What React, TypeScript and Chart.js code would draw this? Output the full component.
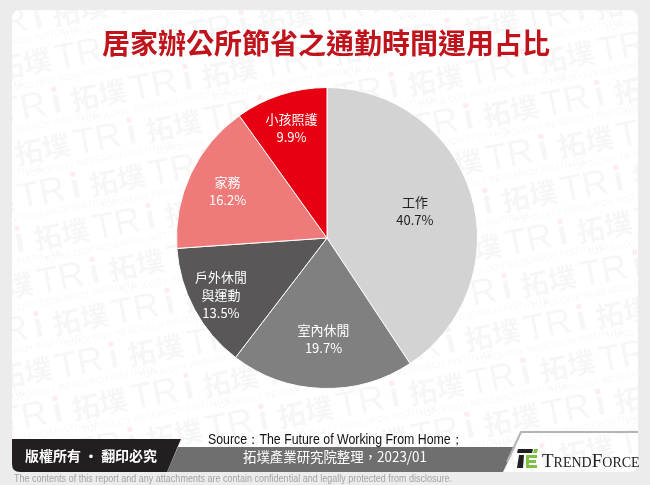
import React, { useEffect, useRef } from "react";
import { Chart, registerables } from "chart.js";

Chart.register(...registerables);

const categories = ["工作", "室內休閒", "戶外休閒與運動", "家務", "小孩照護"];
const labelLines = [["工作"], ["室內休閒"], ["戶外休閒", "與運動"], ["家務"], ["小孩照護"]];
const shares = [40.7, 19.7, 13.5, 16.2, 9.9];
const sliceColors = ["#d3d3d3", "#808080", "#595757", "#ee7a7a", "#e60012"];
const labelColors = ["#222222", "#ffffff", "#ffffff", "#ffffff", "#ffffff"];
const labelRadius = [0.61, 0.67, 0.8, 0.73, 0.77];
const title = "居家辦公所節省之通勤時間運用占比";
const sourceLine1 = "Source：The Future of Working From Home；";
const sourceLine2 = "拓墣產業研究院整理，2023/01";
const copyrightText = "版權所有 · 翻印必究";
const disclaimer =
  "The contents of this report and any attachments are contain confidential and legally protected from disclosure.";

const CJK = '"Noto Sans CJK TC", "Noto Sans CJK SC", sans-serif';

function roundRect(ctx: CanvasRenderingContext2D, x: number, y: number, w: number, h: number, r: number) {
  ctx.beginPath();
  ctx.moveTo(x + r, y);
  ctx.lineTo(x + w - r, y);
  ctx.quadraticCurveTo(x + w, y, x + w, y + r);
  ctx.lineTo(x + w, y + h - r);
  ctx.quadraticCurveTo(x + w, y + h, x + w - r, y + h);
  ctx.lineTo(x + r, y + h);
  ctx.quadraticCurveTo(x, y + h, x, y + h - r);
  ctx.lineTo(x, y + r);
  ctx.quadraticCurveTo(x, y, x + r, y);
  ctx.closePath();
}

function fitText(ctx: CanvasRenderingContext2D, text: string, x: number, y: number, width: number) {
  const w = ctx.measureText(text).width;
  ctx.save();
  ctx.translate(x, y);
  ctx.scale(width / w, 1);
  ctx.fillText(text, 0, 0);
  ctx.restore();
}

function drawWatermarkTile(ctx: CanvasRenderingContext2D, x: number, y: number) {
  ctx.save();
  ctx.translate(x, y);
  ctx.rotate(-0.2);
  ctx.fillStyle = "rgba(0,0,0,0.035)";
  ctx.textBaseline = "alphabetic";
  ctx.textAlign = "left";
  ctx.font = `bold 28px ${CJK}`;
  ctx.fillText("拓墣", 0, 0);
  ctx.font = '36px "Liberation Sans", Arial, sans-serif';
  ctx.fillText("TR", 60, 2);
  ctx.fillRect(116, -16, 5, 18);
  ctx.fillStyle = "rgba(230,0,18,0.07)";
  ctx.fillRect(116, -24, 5, 5);
  ctx.fillStyle = "rgba(0,0,0,0.035)";
  ctx.font = '9px "Liberation Sans", Arial, sans-serif';
  ctx.fillText("TOPOLOGY RESEARCH INSTITUTE", 6, 14);
  ctx.restore();
}

const backgroundPlugin = {
  id: "pageBackground",
  beforeDraw(chart: any) {
    const ctx: CanvasRenderingContext2D = chart.ctx;
    ctx.save();
    ctx.fillStyle = "#ececec";
    ctx.fillRect(0, 0, chart.width, chart.height);
    ctx.fillStyle = "#ffffff";
    roundRect(ctx, 12, 10, 626, 462, 9);
    ctx.fill();
    ctx.save();
    roundRect(ctx, 12, 10, 626, 462, 9);
    ctx.clip();
    for (let i = -6; i < 12; i++) {
      for (let j = -3; j < 8; j++) {
        const px = -40 + i * 75 + j * 19;
        const py = 80 + i * 31 + j * 85 - 170;
        drawWatermarkTile(ctx, px, py);
      }
    }
    ctx.restore();

    // title
    ctx.fillStyle = "#c0141c";
    ctx.font = `bold 28px ${CJK}`;
    ctx.textAlign = "center";
    ctx.textBaseline = "middle";
    ctx.fillText(title, 326, 43);

    // bottom bar
    ctx.fillStyle = "#6f6f6f";
    ctx.beginPath();
    ctx.moveTo(178, 447);
    ctx.lineTo(515, 447);
    ctx.lineTo(503, 472);
    ctx.lineTo(167, 472);
    ctx.closePath();
    ctx.fill();

    ctx.fillStyle = "#231f20";
    ctx.beginPath();
    ctx.moveTo(12, 439);
    ctx.lineTo(181, 439);
    ctx.lineTo(167, 472);
    ctx.lineTo(20, 472);
    ctx.quadraticCurveTo(12, 472, 12, 464);
    ctx.closePath();
    ctx.fill();

    ctx.strokeStyle = "#b4b4b4";
    ctx.lineWidth = 2;
    ctx.beginPath();
    ctx.moveTo(507, 462);
    ctx.lineTo(521, 432);
    ctx.lineTo(638, 432);
    ctx.stroke();

    ctx.fillStyle = "#ffffff";
    ctx.font = `bold 14px ${CJK}`;
    ctx.textAlign = "left";
    ctx.textBaseline = "middle";
    fitText(ctx, copyrightText, 25, 456, 132);

    ctx.fillStyle = "#111111";
    ctx.font = '14px "Liberation Sans", Arial, sans-serif';
    fitText(ctx, sourceLine1, 208, 440, 255);
    ctx.fillStyle = "#ffffff";
    ctx.font = `14px ${CJK}`;
    fitText(ctx, sourceLine2, 243, 457, 184);

    // TrendForce logo
    ctx.fillStyle = "#231f20";
    ctx.beginPath();
    ctx.moveTo(518, 449);
    ctx.lineTo(533, 449);
    ctx.lineTo(532, 453);
    ctx.lineTo(517, 453);
    ctx.closePath();
    ctx.fill();
    ctx.beginPath();
    ctx.moveTo(519, 455);
    ctx.lineTo(524, 455);
    ctx.lineTo(523, 468);
    ctx.lineTo(517, 468);
    ctx.closePath();
    ctx.fill();
    ctx.fillStyle = "#7dc242";
    ctx.beginPath();
    ctx.moveTo(534, 449);
    ctx.lineTo(538, 449);
    ctx.lineTo(537, 453);
    ctx.lineTo(533, 453);
    ctx.closePath();
    ctx.fill();
    ctx.fillRect(526, 455, 11, 3);
    ctx.fillRect(526, 460, 10, 3);
    ctx.fillRect(526, 465, 11, 3);
    ctx.fillRect(526, 455, 3, 13);

    ctx.fillStyle = "#222222";
    ctx.textBaseline = "alphabetic";
    let tx = 542;
    const parts: [string, number][] = [["T", 19], ["REND", 14], ["F", 19], ["ORCE", 14]];
    for (const [s, size] of parts) {
      ctx.font = `${size}px "Liberation Serif", "Times New Roman", serif`;
      ctx.fillText(s, tx, 467);
      tx += ctx.measureText(s).width;
    }

    ctx.fillStyle = "#a3a3a3";
    ctx.textBaseline = "middle";
    ctx.font = '10px "Liberation Sans", Arial, sans-serif';
    fitText(ctx, disclaimer, 14, 479, 438);
    ctx.restore();
  },
};

const labelPlugin = {
  id: "sliceLabels",
  afterDatasetsDraw(chart: any) {
    const ctx: CanvasRenderingContext2D = chart.ctx;
    const meta = chart.getDatasetMeta(0);
    ctx.save();
    ctx.textAlign = "center";
    ctx.textBaseline = "middle";
    ctx.font = `13px ${CJK}`;
    meta.data.forEach((arc: any, i: number) => {
      const p = arc.getProps(["x", "y", "startAngle", "endAngle", "outerRadius"], true);
      const mid = (p.startAngle + p.endAngle) / 2;
      const r = p.outerRadius * labelRadius[i];
      const cx = p.x + Math.cos(mid) * r;
      const cy = p.y + Math.sin(mid) * r;
      const lines = [...labelLines[i], shares[i].toFixed(1) + "%"];
      const lh = 18;
      const top = cy - ((lines.length - 1) * lh) / 2;
      ctx.fillStyle = labelColors[i];
      lines.forEach((ln, k) => ctx.fillText(ln, cx, top + k * lh));
    });
    ctx.restore();
  },
};

export default function App() {
  const ref = useRef<HTMLCanvasElement | null>(null);
  useEffect(() => {
    if (!ref.current) return;
    const chart = new Chart(ref.current, {
      type: "pie",
      data: {
        labels: categories,
        datasets: [
          {
            data: shares,
            backgroundColor: sliceColors,
            borderColor: "#ffffff",
            borderWidth: 1,
          },
        ],
      },
      options: {
        responsive: false,
        animation: false,
        layout: { padding: { left: 176, right: 172, top: 87, bottom: 96 } },
        plugins: {
          legend: { display: false },
          tooltip: { enabled: false },
        },
      },
      plugins: [backgroundPlugin, labelPlugin],
    } as any);
    return () => chart.destroy();
  }, []);
  return (
    <div style={{ position: "fixed", left: 0, top: 0, width: 650, height: 485 }}>
      <canvas ref={ref} width={650} height={485} style={{ width: 650, height: 485, display: "block" }} />
    </div>
  );
}
